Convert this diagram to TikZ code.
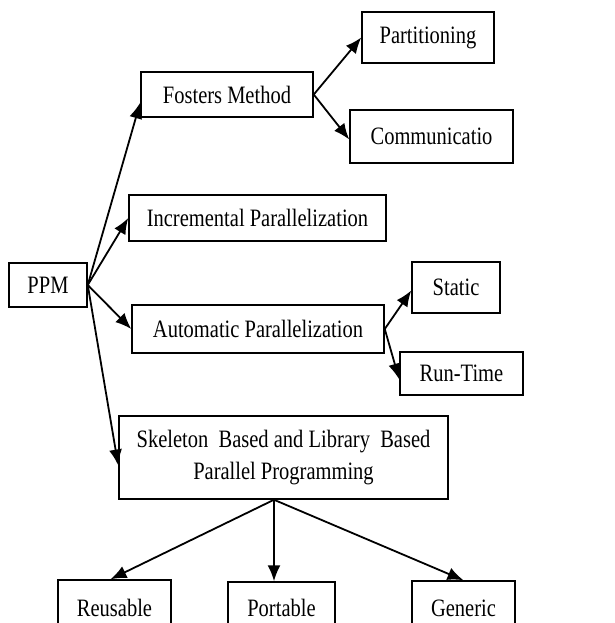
\documentclass[tikz,border=0pt]{standalone}
\usepackage{fontspec}
\setmainfont{Liberation Serif}[FakeStretch=0.82]
\usetikzlibrary{arrows.meta}

\begin{document}
\begin{tikzpicture}[x=1pt,y=-1pt,>={Latex[length=16pt,width=13pt]},line width=1.8pt,
    box/.style={draw,line width=1.5pt,inner sep=0pt,font=\fontsize{25}{32}\selectfont}]
    \useasboundingbox (0,0) rectangle (614,623);
    \clip (0,0) rectangle (614,623);

    % Root
    \node[box,minimum width=78,minimum height=44] (ppm) at (48,285) {PPM};

    % Methods
    \node[box,minimum width=172,minimum height=45] (fosters) at (227,94.5) {Fosters Method};
    \node[box,minimum width=257,minimum height=46] (incr) at (257.5,218) {Incremental Parallelization};
    \node[box,minimum width=252,minimum height=48] (auto) at (258,329) {Automatic Parallelization};
    \node[box,minimum width=329,minimum height=83,align=center] (skel) at (283.5,457.5)
        {Skeleton~~Based and Library~~Based\\Parallel Programming};

    % Sub-steps
    \node[box,minimum width=132,minimum height=51] (part) at (428,37.5) {Partitioning};
    \node[box,minimum width=163,minimum height=53] (comm) at (431.5,136.5) {Communicatio};
    \node[box,minimum width=88,minimum height=51] (static) at (456,287.5) {Static};
    \node[box,minimum width=123,minimum height=43] (runtime) at (461.5,373.5) {Run-Time};

    % Properties (cut at the bottom)
    \node[box,minimum width=113,minimum height=56] (reuse) at (114.5,608) {Reusable};
    \node[box,minimum width=107,minimum height=52] (port) at (281.5,608) {Portable};
    \node[box,minimum width=103,minimum height=54] (gen) at (463.5,608) {Generic};

    % Arrows from the root
    \draw[->] (ppm.east) -- ([yshift=-8]fosters.west);
    \draw[->] (ppm.east) -- (incr.west);
    \draw[->] (ppm.east) -- (auto.west);
    \draw[->] (ppm.east) -- ([yshift=-8]skel.west);

    % Second level
    \draw[->] (fosters.east) -- (part.west);
    \draw[->] (fosters.east) -- ([yshift=-3]comm.west);
    \draw[->] (auto.east) -- ([yshift=-3]static.west);
    \draw[->] (auto.east) -- ([yshift=-6]runtime.west);

    % Fan out of the skeleton box
    \coordinate (fan) at ([xshift=-9.5]skel.south);
    \draw[->] (fan) -- ([xshift=-4]reuse.north);
    \draw[->] (fan) -- (fan |- port.north);
    \draw[->] (fan) -- (gen.north);

\end{tikzpicture}
\end{document}
